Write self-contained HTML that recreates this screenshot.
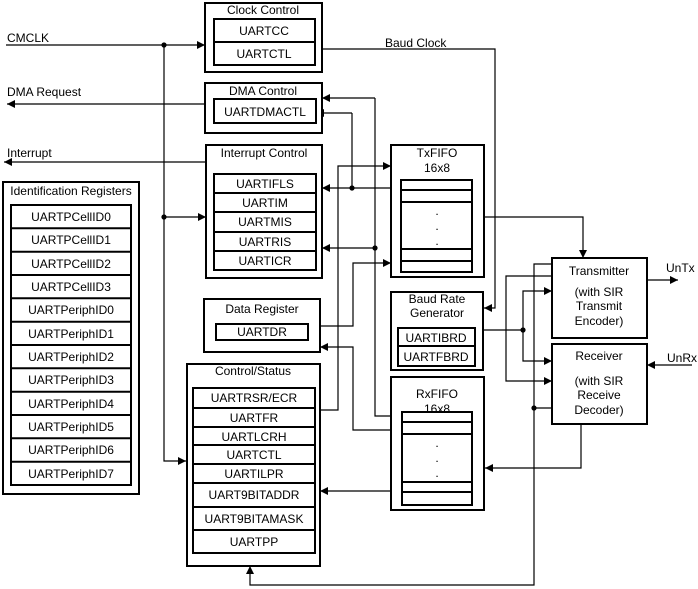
<!DOCTYPE html>
<html><head><meta charset="utf-8"><style>
body{margin:0;background:#fff}
svg{display:block}
text{font-family:"Liberation Sans",Arial,sans-serif;font-size:12px;fill:#000}
</style></head><body>
<svg width="698" height="589" viewBox="0 0 698 589" xmlns="http://www.w3.org/2000/svg">
<defs>
<marker id="a" viewBox="0 0 10 10" refX="10" refY="5" markerWidth="8" markerHeight="8" markerUnits="userSpaceOnUse" orient="auto"><path d="M0,0L10,5L0,10z" fill="#000"/></marker>
</defs>
<g fill="none" stroke="#000" stroke-width="1.2">
<!-- left lines -->
<path d="M6,45H205" marker-end="url(#a)"/>
<path d="M164,45V461H186" marker-end="url(#a)"/>
<path d="M164,217H206" marker-end="url(#a)"/>
<path d="M205,104H7" marker-end="url(#a)"/>
<path d="M206,162H4" marker-end="url(#a)"/>
<!-- baud clock -->
<path d="M315,49H495V308H484" marker-end="url(#a)"/>
<!-- DMA / interrupt -->
<path d="M375,98H322" marker-end="url(#a)"/>
<path d="M375,98V416H391"/>
<path d="M375,248H322" marker-end="url(#a)"/>
<path d="M352,113H316" marker-end="url(#a)"/>
<path d="M352,113V188"/>
<path d="M391,188H322" marker-end="url(#a)"/>
<path d="M320,410H338V166H391" marker-end="url(#a)"/>
<path d="M320,326H353V263H391" marker-end="url(#a)"/>
<path d="M391,430H353V347H320" marker-end="url(#a)"/>
<path d="M391,491H320" marker-end="url(#a)"/>
<!-- right side -->
<path d="M472,217H583V258" marker-end="url(#a)"/>
<path d="M475,330H523"/>
<path d="M523,330V291H552" marker-end="url(#a)"/>
<path d="M523,330V361H552" marker-end="url(#a)"/>
<path d="M552,276H506V381H552" marker-end="url(#a)"/>
<path d="M552,264H534V585H250V566" marker-end="url(#a)"/>
<path d="M552,408H534"/>
<path d="M581,424V468H485" marker-end="url(#a)"/>
<path d="M647,280H678" marker-end="url(#a)"/>
<path d="M692,365H647" marker-end="url(#a)"/>
</g>
<g fill="#000">
<circle cx="164" cy="45" r="2.6"/><circle cx="164" cy="217" r="2.6"/>
<circle cx="352" cy="188" r="2.6"/><circle cx="375" cy="248" r="2.6"/>
<circle cx="523" cy="330" r="2.6"/><circle cx="534" cy="408" r="2.6"/>
</g>
<g fill="#fff" stroke="#000" stroke-width="2">
<rect x="205" y="3" width="117" height="69"/>
<rect x="214" y="19" width="101" height="46"/>
<rect x="205" y="83" width="117" height="50"/>
<rect x="214" y="99" width="102" height="24"/>
<rect x="206" y="145" width="116" height="133"/>
<rect x="214" y="174" width="102" height="96"/>
<rect x="391" y="145" width="93" height="132"/>
<rect x="401" y="180" width="71" height="92"/>
<rect x="3" y="182" width="136" height="312"/>
<rect x="11" y="205" width="120" height="280"/>
<rect x="204" y="299" width="116" height="53"/>
<rect x="216" y="324" width="92" height="16"/>
<rect x="187" y="364" width="133" height="202"/>
<rect x="193" y="388" width="122" height="165"/>
<rect x="391" y="292" width="92" height="78"/>
<rect x="398" y="328" width="77" height="38"/>
<rect x="391" y="377" width="93" height="133"/>
<rect x="402" y="412" width="70" height="93"/>
<rect x="552" y="258" width="95" height="80"/>
<rect x="552" y="344" width="95" height="80"/>
</g>
<g stroke="#000" stroke-width="2">
<path d="M214,42H315M214,193H316M214,212H316M214,232H316M214,251H316"/>
<path d="M401,190H472M401,202H472M401,249H472M401,261H472"/>
<path d="M402,422H472M402,434H472M402,482H472M402,492H472"/>
<path d="M398,346H475"/>
<path d="M193,408H315M193,427H315M193,445H315M193,464H315M193,483H315M193,507H315M193,530H315"/>
<path d="M11,228.3H131M11,251.7H131M11,275H131M11,298.3H131M11,321.7H131M11,345H131M11,368.3H131M11,391.7H131M11,415H131M11,438.3H131M11,461.7H131"/>
</g>
<g text-anchor="middle">
<text x="263" y="14">Clock Control</text>
<text x="264" y="35">UARTCC</text><text x="264" y="58">UARTCTL</text>
<text x="263" y="95">DMA Control</text>
<text x="265" y="116">UARTDMACTL</text>
<text x="264" y="157">Interrupt Control</text>
<text x="265" y="188">UARTIFLS</text><text x="265" y="207">UARTIM</text><text x="265" y="226">UARTMIS</text><text x="265" y="246">UARTRIS</text><text x="265" y="265">UARTICR</text>
<text x="437" y="157">TxFIFO</text><text x="437" y="172">16x8</text>
<text x="437" y="398">RxFIFO</text><text x="437" y="413">16x8</text>
<text x="71" y="195">Identification Registers</text>
<text x="71" y="221">UARTPCellID0</text><text x="71" y="244">UARTPCellID1</text><text x="71" y="268">UARTPCellID2</text><text x="71" y="291">UARTPCellID3</text>
<text x="71" y="314">UARTPeriphID0</text><text x="71" y="338">UARTPeriphID1</text><text x="71" y="361">UARTPeriphID2</text><text x="71" y="384">UARTPeriphID3</text>
<text x="71" y="408">UARTPeriphID4</text><text x="71" y="431">UARTPeriphID5</text><text x="71" y="454">UARTPeriphID6</text><text x="71" y="478">UARTPeriphID7</text>
<text x="262" y="313">Data Register</text>
<text x="262" y="336">UARTDR</text>
<text x="253" y="375">Control/Status</text>
<text x="254" y="402">UARTRSR/ECR</text><text x="254" y="422">UARTFR</text><text x="254" y="441">UARTLCRH</text><text x="254" y="459">UARTCTL</text><text x="254" y="478">UARTILPR</text><text x="254" y="499">UART9BITADDR</text><text x="254" y="523">UART9BITAMASK</text><text x="254" y="546">UARTPP</text>
<text x="437" y="303">Baud Rate</text><text x="437" y="317">Generator</text>
<text x="436" y="342">UARTIBRD</text><text x="436" y="361">UARTFBRD</text>
<text x="599" y="275">Transmitter</text><text x="599" y="296">(with SIR</text><text x="599" y="310">Transmit</text><text x="599" y="325">Encoder)</text>
<text x="599" y="360">Receiver</text><text x="599" y="385">(with SIR</text><text x="599" y="399">Receive</text><text x="599" y="414">Decoder)</text>
</g>
<g fill="#000" font-family="Liberation Sans" font-size="12">
<text x="7" y="42">CMCLK</text>
<text x="7" y="96">DMA Request</text>
<text x="7" y="157">Interrupt</text>
<text x="385" y="47">Baud Clock</text>
<text x="666" y="272">UnTx</text>
<text x="667" y="362">UnRx</text>
<text x="437" y="215" text-anchor="middle">.</text>
<text x="437" y="230" text-anchor="middle">.</text>
<text x="437" y="245" text-anchor="middle">.</text>
<text x="437" y="447" text-anchor="middle">.</text>
<text x="437" y="462" text-anchor="middle">.</text>
<text x="437" y="477" text-anchor="middle">.</text>
</g>
</svg>
</body></html>
